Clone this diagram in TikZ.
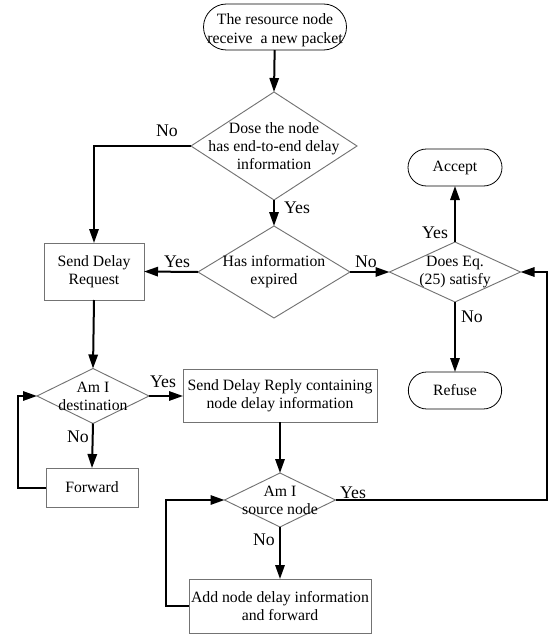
\documentclass[tikz,border=0pt]{standalone}
\usepackage{fontspec}
\setmainfont{Liberation Serif}
\usetikzlibrary{shapes.geometric,shapes.misc,arrows.meta}
\begin{document}
\begin{tikzpicture}[x=0.75pt,y=-0.75pt,
 every node/.style={inner sep=0pt, outer sep=0pt},
 txt/.style={font=\fontsize{11.8}{13.5}\selectfont, align=center},
 term/.style={rounded rectangle, draw=black, line width=0.6pt, txt},
 proc/.style={rectangle, draw=black!55, line width=0.7pt, txt},
 dec/.style={diamond, draw=black!55, line width=0.7pt},
 lab/.style={font=\fontsize{13.3}{15}\selectfont},
 arr/.style={line width=1.5pt, -{Triangle[length=10.5pt,width=7pt]}}]
\useasboundingbox (0,0) rectangle (552,635);

% nodes
\node[term, minimum width=107.25pt, minimum height=34.5pt,
  label={[font=\fontsize{11.8}{14.2}\selectfont, align=center, yshift=-2.5pt]center:{The resource node\\receive~ a new packet}}] (start) at (275,27) {};
\node[dec, minimum width=124.5pt, minimum height=81pt,
  label={[txt]center:{Dose the node\\has end-to-end delay\\information}}] (d1) at (274,146) {};
\node[dec, minimum width=114pt, minimum height=69pt,
  label={[txt]center:{Has information\\expired}}] (d2) at (274,272) {};
\node[proc, minimum width=75pt, minimum height=42.75pt] (req) at (94,271.5) {Send Delay\\Request};
\node[dec, minimum width=98.25pt, minimum height=45pt,
  label={[txt]center:{Does Eq.\\(25) satisfy}}] (eq) at (455,272) {};
\node[term, minimum width=70.5pt, minimum height=27.75pt] (accept) at (455,167.5) {Accept};
\node[term, minimum width=70pt, minimum height=27.75pt] (refuse) at (455,390.5) {Refuse};
\node[dec, minimum width=84pt, minimum height=41.25pt,
  label={[txt]center:{Am I\\destination}}] (dest) at (93,396) {};
\node[proc, minimum width=145.5pt, minimum height=39.75pt] (reply) at (280,395.5)
  {Send Delay Reply containing\\node delay information};
\node[proc, minimum width=69pt, minimum height=29.25pt] (fwd) at (92,487.5) {Forward};
\node[dec, minimum width=83.25pt, minimum height=40.5pt,
  label={[txt]center:{Am I\\source node}}] (src) at (280,500) {};
\node[proc, minimum width=136.5pt, minimum height=40.5pt] (add) at (280,606)
  {Add node delay information\\and forward};

\coordinate (rr) at (547,272);
\coordinate (l1) at (18,396);
\coordinate (l2) at (166,500);

% connectors
\draw[arr] (start) -- (d1.north);
\draw[arr] (d1.west) -| (req.north);
\draw[arr] (d1.south) -- (d2.north);
\draw[arr] (d2.west) -- (req.east);
\draw[arr] (d2.east) -- (eq.west);
\draw[arr] (eq.north) -- (accept.south);
\draw[arr] (eq.south) -- (refuse.north);
\draw[arr] (req.south) -- (dest.north);
\draw[arr] (dest.east) -- (dest.east -| reply.west);
\draw[arr] (dest.south) -- (fwd.north);
\draw[arr] (fwd.west) -| (l1) -- (dest.west);
\draw[arr] (reply.south) -- (src.north);
\draw[arr] (src.east) -| (rr) -- (eq.east);
\draw[arr] (src.south) -- (add.north);
\draw[arr] (add.west) -| (l2) -- (src.west);

% labels
\node[lab] (n1) at (167,131) {No};
\node[lab] (y1) at (297,208) {Yes};
\node[lab] (y2) at (177,262) {Yes};
\node[lab] (n2) at (366,262) {No};
\node[lab] (y3) at (435,233) {Yes};
\node[lab] (n3) at (472,317) {No};
\node[lab] (y4) at (163,382) {Yes};
\node[lab] (n4) at (78,437) {No};
\node[lab] (y5) at (353,493) {Yes};
\node[lab] (n5) at (264,540) {No};
\end{tikzpicture}
\end{document}
